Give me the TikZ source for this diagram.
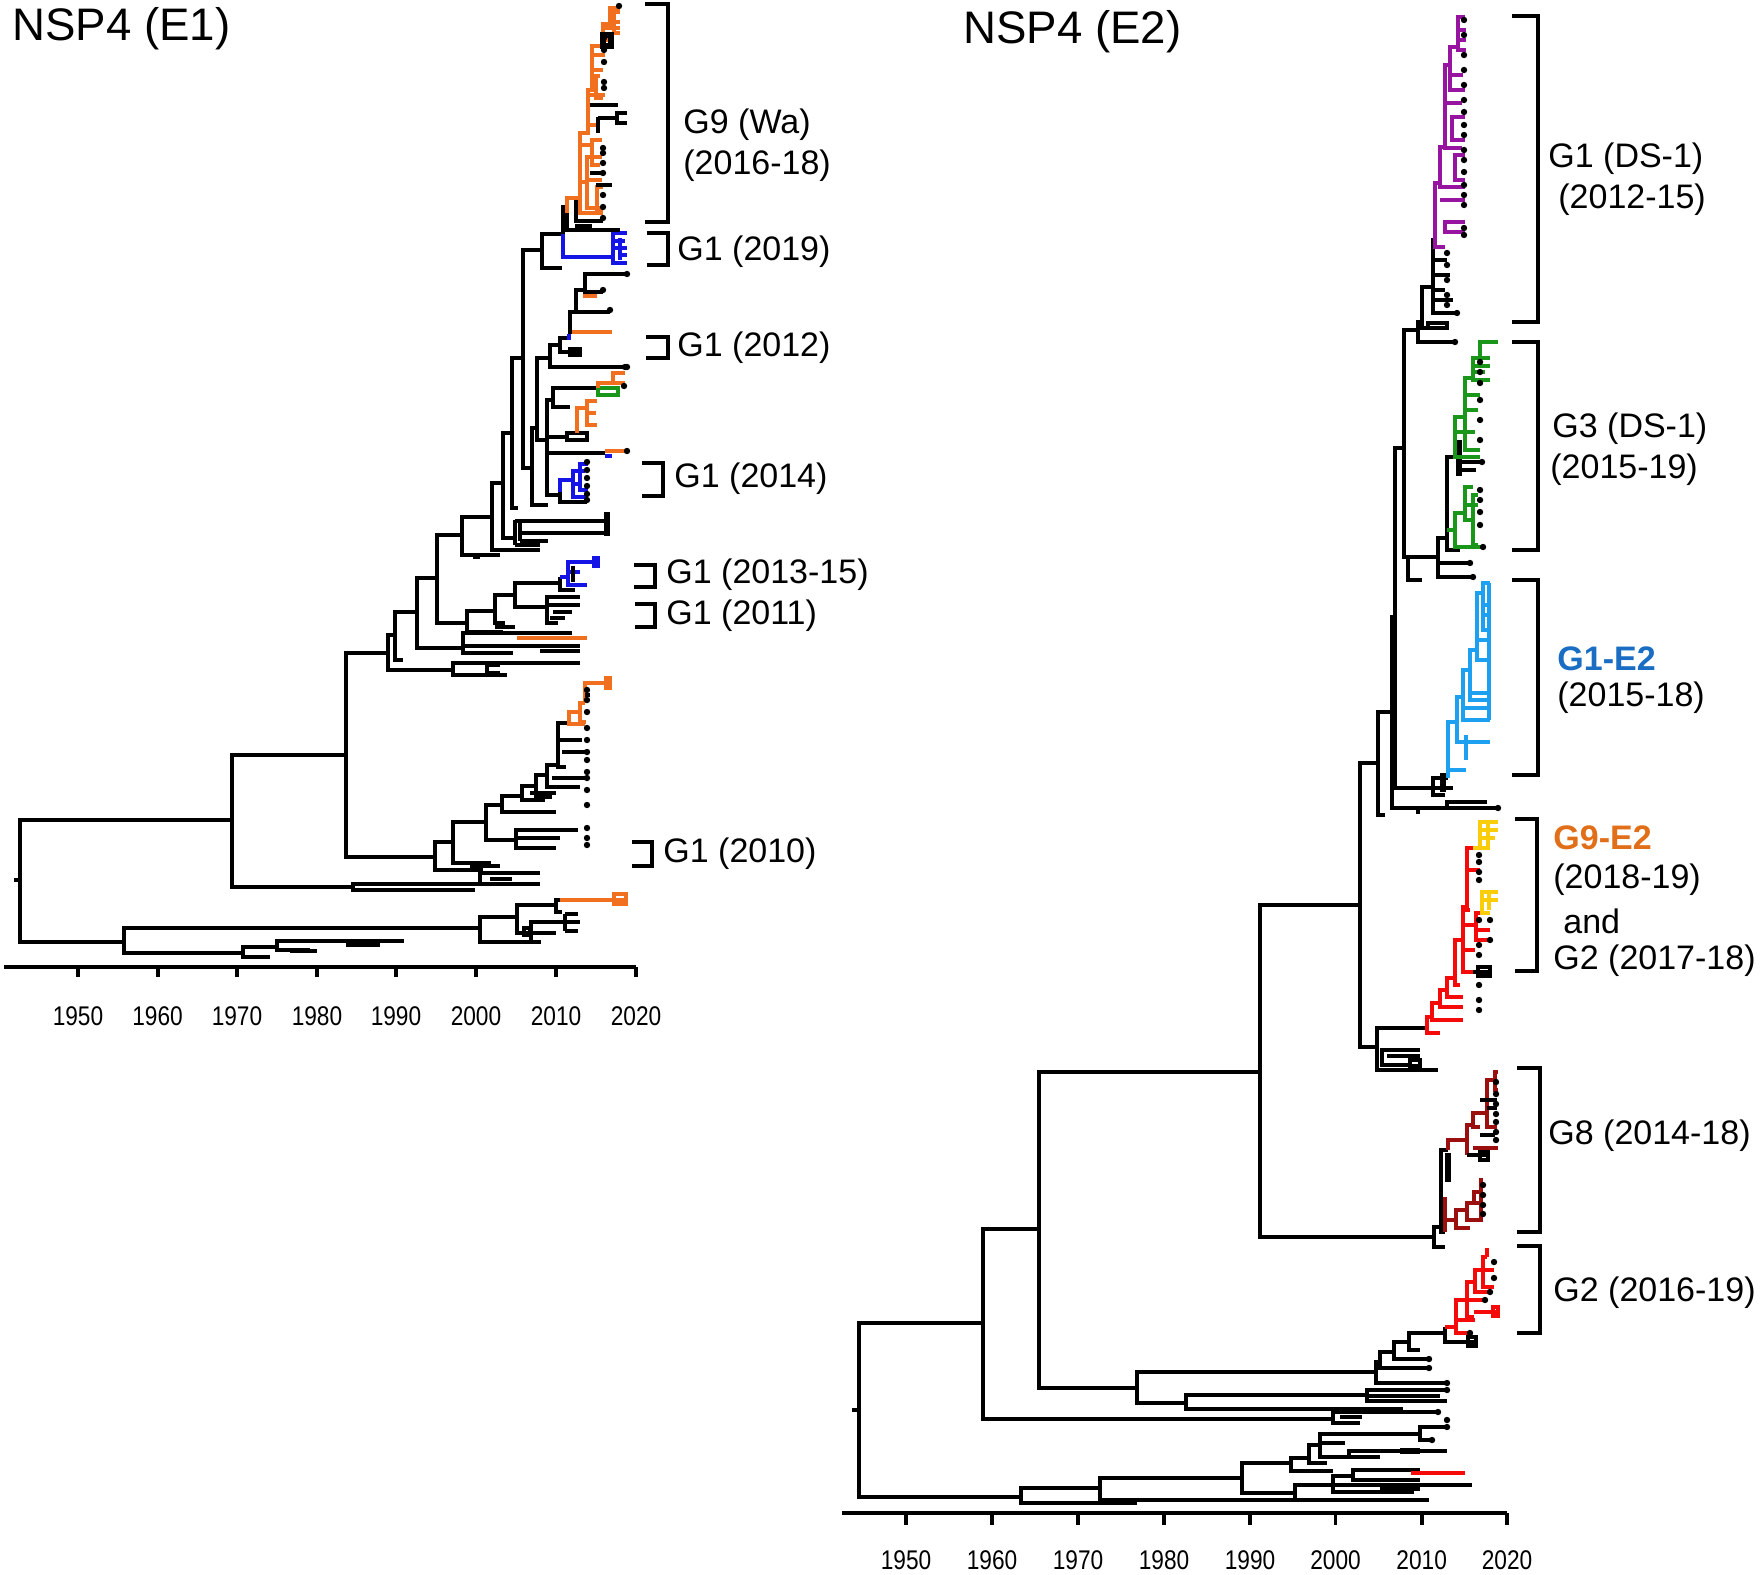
\documentclass[tikz,border=0pt]{standalone}
\usepackage{fontspec}
\setmainfont{Liberation Sans}
\definecolor{cOr}{RGB}{240,112,32}
\definecolor{cBl}{RGB}{20,20,230}
\definecolor{cGr}{RGB}{26,150,26}
\definecolor{cPu}{RGB}{150,20,160}
\definecolor{cLb}{RGB}{30,160,240}
\definecolor{cRd}{RGB}{245,10,10}
\definecolor{cYe}{RGB}{250,205,10}
\definecolor{cDr}{RGB}{155,15,15}
\definecolor{cLabB}{RGB}{25,110,195}
\definecolor{cLabO}{RGB}{225,110,25}
\newcommand\TNd[6][brk]{\draw[#1] (#5,#3) -| (#2,#4) -- (#6,#4);}
\newcommand\TLf[4][brk]{\draw[#1] (#2,#3) -- (#4,#3);}
\newcommand\TTp[3][black]{\fill[#1] (#2,#3) circle (1.6pt);}
\begin{document}
\begin{tikzpicture}[x=0.5pt,y=-0.5pt,
  brk/.style={line width=1.9pt,draw=black,line join=miter},
  orng/.style={brk,draw=cOr},
  blu/.style={brk,draw=cBl},
  grn/.style={brk,draw=cGr},
  purp/.style={brk,draw=cPu},
  lblu/.style={brk,draw=cLb},
  redd/.style={brk,draw=cRd},
  yel/.style={brk,draw=cYe},
  dred/.style={brk,draw=cDr},
  brkt/.style={line width=2.3pt,draw=black},
  lab/.style={anchor=west,inner sep=0pt,font=\fontsize{17}{20}\selectfont},
  ttl/.style={anchor=west,inner sep=0pt,font=\fontsize{22.8}{26}\selectfont},
  tkl/.style={anchor=center,inner sep=0pt,xscale=0.84,font=\fontsize{13.5}{15}\selectfont}]
\fill[white] (0,0) rectangle (1760,1574);
\useasboundingbox (0,0) rectangle (1760,1574);

% ================= LEFT TREE =================
\draw[brk] (14,880)--(20,880);
\TNd{20}{820}{942}{232}{124}
\TNd{232}{755}{887}{346}{353}
\TNd{353}{884}{890}{540}{475}
\TNd{480}{873}{884}{540}{497}
\TLf{490}{879}{512}
\TNd{346}{653}{857}{388}{435}
% G1 (2010) ladder
\TNd{435}{842}{870}{453}{483}
\TNd{453}{822}{863}{486}{491}
\TLf{470}{866}{500}
\TNd{486}{805}{840}{502}{516}
\TNd{516}{830}{848}{578}{556}
\TLf{516}{838}{560}
\TNd{502}{796}{812}{522}{556}
\TNd{522}{786}{800}{536}{545}
\TLf{530}{793}{556}
\TNd{536}{775}{797}{547}{552}
\TNd{547}{765}{787}{558}{580}
\TLf{552}{778}{587}
\TNd{558}{723}{767}{569}{566}
\TLf{560}{740}{582}
\TLf{562}{752}{586}
\TNd[orng]{569}{712}{724}{580}{585}
\TNd[orng]{580}{703}{722}{585}{586}
\draw[orng] (585,703)--(585,683)--(609,683);
\draw[orng] (606,678) rectangle (610,688);
\TLf{585}{695}{590}
\foreach \yy in {690,700,712,728,740,752,760,772,778,790,805,828,838,845}{\TTp{587}{\yy}}
% middle block
\TNd{388}{635}{670}{395}{453}
\TNd{453}{663}{675}{580}{507}
\TNd{487}{665}{673}{500}{500}
\TNd{395}{612}{660}{417}{403}
\TNd{417}{578}{648}{437}{463}
\TNd{463}{633}{653}{572}{513}
\TLf{463}{646}{580}
\TLf[orng]{517}{638}{587}
\TLf{540}{651}{580}
\TNd{437}{535}{623}{462}{467}
\TNd{467}{611}{632}{495}{503}
\TLf{495}{627}{515}
\TNd{495}{595}{623}{515}{505}
\TNd{515}{583}{607}{560}{547}
\TNd{547}{597}{623}{580}{558}
\TLf{547}{605}{580}
\TLf{553}{612}{572}
\TLf{550}{618}{565}
\draw[brk] (560,577)--(560,590)--(575,590);
\draw[blu] (560,577)--(568,577);
\TNd[blu]{568}{562}{585}{597}{587}
\draw[blu] (594,558) rectangle (598,566);
\TLf[blu]{568}{572}{580}
\draw[brk] (573,566)--(573,582);
\TNd{462}{517}{555}{492}{500}
\TLf{473}{557}{480}
\TNd{492}{483}{550}{503}{540}
\TNd{503}{433}{538}{512}{515}
\draw[brk] (515,520)--(515,545);
\TLf{515}{521}{610}
\draw[brk] (520,521)--(520,541);
\TLf{520}{533}{610}
\TLf{520}{541}{548}
\TLf{515}{545}{540}
\draw[brk,line width=3pt] (607,512)--(607,536);
% upper part
\TNd{512}{358}{508}{523}{518}
\TNd{523}{250}{468}{542}{532}
\TNd{532}{428}{505}{537}{548}
\TNd{537}{358}{440}{550}{547}
\TNd{547}{400}{495}{553}{560}
\TLf{547}{437}{567}
\draw[brk] (567,433) rectangle (587,440);
\draw[orng] (577,433)--(577,408)--(587,408);
\TNd[orng]{587}{401}{425}{597}{597}
\TLf[orng]{587}{413}{596}
\TLf{547}{453}{605}
\TLf[orng]{605}{451}{627}
\TLf[blu]{605}{456}{612}
\TTp{627}{451}
% blue 2014
\TLf{547}{495}{560}
\draw[blu] (560,492)--(560,480)--(573,480);
\draw[brk] (560,492)--(560,502)--(587,502);
\TNd[blu]{573}{471}{497}{585}{588}
\TNd[blu]{580}{464}{490}{588}{588}
\TLf[blu]{573}{484}{580}
\foreach \yy in {462,470,478,486,494,500}{\TTp{587}{\yy}}
% orange / green
\TNd{553}{388}{407}{573}{570}
\TLf{573}{388}{598}
\draw[grn] (598,388) rectangle (618,395);
\draw[orng] (598,388)--(598,383)--(613,383);
\TNd[orng]{613}{373}{383}{625}{625}
\TTp{625}{367}\TTp{624}{386}
% G1 (2012) ladder
\TNd{550}{345}{367}{560}{627}
\TTp{627}{367}
\TNd{560}{338}{352}{570}{580}
\draw[brk] (570,349) rectangle (580,355);
\TNd{570}{312}{332}{576}{572}
\TLf[orng]{572}{332}{612}
\draw[blu] (569,334)--(569,340);
\TNd{576}{290}{312}{585}{610}
\TLf[orng]{583}{296}{597}
\TNd{585}{274}{292}{627}{603}
\TTp{627}{274}\TTp{603}{290}\TTp{610}{310}
% G1 (2019)
\TNd{542}{234}{268}{563}{562}
\draw[brk] (563,205)--(563,234);
\draw[blu] (563,234)--(563,257)--(613,257);
\TNd[blu]{613}{233}{263}{627}{627}
\TLf[blu]{613}{241}{625}
\TLf[blu]{613}{248}{627}
\draw[blu] (620,238)--(620,260);
\TLf[blu]{620}{255}{627}
% D and G9 (Wa)
\draw[brk] (567,213)--(567,230)--(620,230);
\draw[brk] (577,226) rectangle (590,230);
\draw[brk] (576,200)--(576,221)--(603,221);
\draw[orng] (567,213)--(567,198) -| (580,133) -| (588,90) -| (592,46) -| (603,24) -| (610,8) -- (620,8);
\draw[orng] (580,198)--(580,213)--(603,213);
\draw[orng] (580,182)--(587,182);
\TNd[orng]{587}{157}{208}{602}{603}
\TLf[orng]{587}{180}{602}
\TNd[orng]{597}{187}{210}{603}{603}
\TLf[orng]{580}{145}{592}
\TNd[orng]{592}{140}{165}{602}{600}
\TLf[orng]{588}{95}{605}
\TLf[orng]{588}{125}{600}
\TNd[orng]{596}{76}{98}{600}{603}
\TLf[orng]{592}{55}{605}
\TLf[orng]{592}{70}{603}
\TNd[orng]{603}{28}{40}{620}{612}
\TNd[orng]{610}{12}{22}{620}{620}
\draw[orng] (614,10)--(614,33)--(620,33);
\TLf{590}{105}{618}
\draw[brk] (598,117)--(598,133);
\TLf{598}{118}{617}
\TNd{617}{113}{123}{627}{627}
\TLf{596}{185}{612}
\TLf{590}{173}{603}
\draw[brk,line width=3pt] (603,35)--(611,35)--(611,46)--(603,46)--cycle;
\TTp{619}{6}
\foreach \yy in {148,153,163,173,195,207,218}{\TTp{603}{\yy}}
\foreach \yy in {38,50,62,82,88}{\TTp{604}{\yy}}
% lower left subtree
\TNd{124}{928}{953}{480}{243}
\TNd{480}{917}{942}{517}{531}
\TNd{517}{905}{933}{556}{556}
\TNd{556}{900}{912}{560}{562}
\TLf[orng]{560}{900}{627}
\draw[orng] (614,894) rectangle (626,904);
\TNd{531}{922}{942}{565}{541}
\draw[brk] (565,914)--(565,931);
\TLf{565}{922}{580}
\TLf{565}{914}{578}
\TLf{565}{931}{578}
\draw[brk] (524,928) rectangle (530,935);
\TNd{243}{947}{957}{277}{270}
\TNd{277}{941}{950}{346}{310}
\TLf{346}{941}{404}
\draw[brk,line width=3pt] (346,944)--(380,944);
\draw[brk] (290,951)--(317,951);
% brackets left
\draw[brkt] (645,4) -- (668,4) -- (668,222) -- (645,222);
\draw[brkt] (647,233) -- (668,233) -- (668,265) -- (647,265);
\draw[brkt] (646,337) -- (668,337) -- (668,358) -- (646,358);
\draw[brkt] (642,463) -- (663,463) -- (663,496) -- (642,496);
\draw[brkt] (634,565) -- (655,565) -- (655,587) -- (634,587);
\draw[brkt] (635,604) -- (655,604) -- (655,627) -- (635,627);
\draw[brkt] (632,842) -- (652,842) -- (652,866) -- (632,866);
% axis left
\draw[brk] (4,967) -- (636,967);
\foreach \xx/\yr in {78/1950,157.6/1960,237/1970,317/1980,396/1990,476/2000,556/2010,636/2020}{
  \draw[brk] (\xx,967)--(\xx,977);
  \node[tkl] (La\yr) at (\xx,1016) {\yr};}
% labels left
\node[ttl] (t1) at (12,29) {NSP4 (E1)};
\node[lab] (l1a) at (683,125) {G9 (Wa)};
\node[lab] (l1b) at (683,166) {(2016-18)};
\node[lab] (l2) at (677,252) {G1 (2019)};
\node[lab] (l3) at (677,348) {G1 (2012)};
\node[lab] (l4) at (674,479) {G1 (2014)};
\node[lab] (l5) at (666,575) {G1 (2013-15)};
\node[lab] (l6) at (666,616) {G1 (2011)};
\node[lab] (l7) at (663,854) {G1 (2010)};

% ================= RIGHT TREE =================
\draw[brk] (852,1410)--(859,1410);
\TNd{859}{1323}{1497}{983}{1021}
\TNd{983}{1229}{1419}{1039}{1333}
\TNd{1333}{1412}{1423}{1438}{1360}
\TLf{1340}{1417}{1362}
\TTp{1438}{1412}
\TNd{1039}{1072}{1388}{1260}{1137}
\TNd{1137}{1372}{1403}{1376}{1186}
\TNd{1376}{1362}{1383}{1380}{1447}
\TNd{1380}{1352}{1368}{1394}{1429}
\TNd{1394}{1342}{1359}{1409}{1429}
\TNd{1409}{1333}{1350}{1445}{1420}
\draw[brk] (1445,1327)--(1445,1342)--(1476,1342);
\draw[brk] (1468,1337) rectangle (1476,1346);
\TTp{1447}{1383}\TTp{1429}{1368}\TTp{1429}{1359}
\draw[redd] (1445,1327)--(1456,1327);
\TNd[redd]{1456}{1300}{1333}{1467}{1470}
\TNd[redd]{1467}{1282}{1317}{1475}{1474}
\TLf[redd]{1474}{1312}{1498}
\draw[redd] (1493,1307) rectangle (1498,1316);
\TNd[redd]{1475}{1270}{1292}{1483}{1490}
\TNd[redd]{1483}{1257}{1287}{1487}{1494}
\draw[redd] (1487,1257)--(1487,1248);
\TLf[redd]{1456}{1320}{1475}
\TLf[redd]{1467}{1300}{1485}
\TLf[redd]{1483}{1270}{1494}
\TTp{1490}{1292}\TTp{1494}{1278}\TTp{1470}{1333}\TTp{1485}{1300}\TTp{1494}{1262}
\TNd{1186}{1395}{1409}{1367}{1403}
\TNd{1367}{1390}{1401}{1447}{1447}
\TLf{1367}{1396}{1440}
\TTp{1447}{1390}
% bottom group
\TNd{1021}{1488}{1503}{1100}{1137}
\TNd{1100}{1478}{1500}{1242}{1295}
\TNd{1242}{1463}{1493}{1291}{1295}
\TNd{1295}{1485}{1500}{1333}{1429}
\TNd{1333}{1476}{1492}{1353}{1414}
\TNd{1353}{1470}{1480}{1420}{1420}
\TLf[redd]{1411}{1473}{1465}
\TLf{1333}{1485}{1472}
\draw[brk,line width=3pt] (1380,1488)--(1420,1488);
\TNd{1291}{1458}{1471}{1309}{1333}
\TNd{1309}{1445}{1463}{1320}{1327}
\TNd{1320}{1434}{1457}{1420}{1349}
\TNd{1420}{1427}{1440}{1447}{1432}
\TNd{1349}{1451}{1457}{1447}{1380}
\TLf{1320}{1443}{1345}
\draw[brk,line width=3pt] (1400,1451)--(1420,1451);
\TTp{1447}{1420}\TTp{1447}{1427}\TTp{1432}{1440}
% G8
\TNd{1260}{905}{1237}{1360}{1434}
\TNd{1434}{1227}{1247}{1441}{1445}
\TNd{1441}{1150}{1232}{1448}{1445}
\draw[brk,line width=3pt] (1448,1153)--(1448,1182);
\draw[dred] (1448,1150)--(1448,1140)--(1467,1140);
\draw[dred] (1473,1125) -| (1467,1155);
\TLf{1467}{1155}{1490}
\draw[brk] (1480,1151) rectangle (1488,1160);
\TNd[dred]{1473}{1113}{1127}{1487}{1480}
\TNd[dred]{1487}{1080}{1127}{1495}{1497}
\TNd[dred]{1495}{1072}{1090}{1498}{1498}
\TLf[dred]{1473}{1148}{1498}
\TLf{1480}{1100}{1497}
\TLf{1487}{1108}{1497}
\TLf{1480}{1135}{1495}
\foreach \yy in {1082,1094,1104,1114,1122,1132,1140}{\TTp{1496}{\yy}}
\draw[dred] (1445,1232)--(1445,1197);
\draw[dred] (1445,1220)--(1456,1220);
\TNd[dred]{1456}{1210}{1228}{1467}{1470}
\TNd[dred]{1467}{1203}{1220}{1474}{1483}
\TNd[dred]{1474}{1192}{1203}{1481}{1483}
\TNd[dred]{1481}{1180}{1217}{1483}{1483}
\foreach \yy in {1185,1195,1205,1214}{\TTp{1483}{\yy}}
% upper right spine
\TNd{1360}{763}{1047}{1378}{1377}
% red clade G9-E2 / G2
\TNd{1377}{1028}{1070}{1427}{1438}
\TNd{1382}{1050}{1065}{1420}{1410}
\TLf{1387}{1056}{1420}
\draw[brk] (1410,1060) rectangle (1420,1066);
\TNd[redd]{1427}{1017}{1033}{1432}{1440}
\TNd[redd]{1432}{1003}{1020}{1440}{1463}
\TNd[redd]{1440}{990}{1007}{1447}{1463}
\TNd[redd]{1447}{978}{997}{1455}{1463}
\TNd[redd]{1455}{940}{985}{1463}{1460}
\TNd[redd]{1463}{907}{972}{1467}{1473}
\TLf{1473}{972}{1490}
\draw[brk] (1478,967) rectangle (1490,976);
\TNd[redd]{1467}{848}{910}{1473}{1470}
\TLf[redd]{1463}{925}{1476}
\TNd[redd]{1476}{913}{940}{1480}{1490}
\TLf[redd]{1476}{930}{1490}
\TLf[redd]{1467}{870}{1480}
\TLf[redd]{1463}{950}{1475}
\draw[yel] (1473,848)--(1480,848);
\TNd[yel]{1480}{822}{848}{1498}{1490}
\TLf[yel]{1480}{830}{1498}
\TLf[yel]{1480}{838}{1495}
\draw[yel] (1488,824)--(1488,846);
\TNd[yel]{1482}{892}{913}{1498}{1490}
\TLf[yel]{1482}{900}{1498}
\draw[yel] (1489,894)--(1489,910);
\foreach \yy in {855,862,872,880,920,945,955,985,1000,1010}{\TTp{1479}{\yy}}
\TTp{1490}{920}\TTp{1490}{940}
% N2-N4
\TNd{1378}{712}{815}{1392}{1385}
\TNd{1392}{617}{808}{1395}{1498}
\TTp{1498}{808}
\TNd{1447}{802}{808}{1487}{1447}
\TLf{1416}{812}{1420}
\TNd{1395}{448}{788}{1404}{1433}
% blue clade G1-E2
\TNd{1433}{778}{795}{1448}{1445}
\draw[brk,line width=3pt] (1443,773)--(1443,792);
\TLf{1433}{788}{1453}
\draw[lblu] (1448,778)--(1448,770);
\TNd[lblu]{1448}{722}{770}{1457}{1466}
\TNd[lblu]{1457}{697}{742}{1463}{1490}
\TNd[lblu]{1463}{670}{720}{1470}{1490}
\TNd[lblu]{1470}{650}{700}{1477}{1490}
\TNd[lblu]{1477}{593}{660}{1483}{1490}
\TNd[lblu]{1483}{583}{630}{1490}{1490}
\TLf[lblu]{1470}{693}{1490}
\TLf[lblu]{1477}{640}{1490}
\TLf[lblu]{1483}{605}{1490}
\TLf[lblu]{1483}{615}{1490}
\TLf[lblu]{1463}{708}{1490}
\draw[lblu] (1489,583)--(1489,720);
\draw[lblu] (1466,735)--(1466,760);
% N5, G3 (DS-1)
\TNd{1404}{330}{557}{1418}{1408}
\TNd{1408}{557}{580}{1438}{1422}
\TNd{1438}{538}{577}{1447}{1473}
\TLf{1438}{563}{1470}
\TTp{1473}{577}\TTp{1470}{563}
\TNd{1447}{457}{550}{1455}{1460}
\draw[brk,line width=3pt] (1459,440)--(1459,476);
\TLf{1459}{462}{1482}
\TLf{1459}{470}{1476}
\TNd[grn]{1455}{417}{457}{1465}{1480}
\TNd[grn]{1465}{378}{450}{1473}{1480}
\TNd[grn]{1473}{358}{380}{1480}{1490}
\TNd[grn]{1480}{342}{358}{1498}{1490}
\TLf[grn]{1465}{395}{1480}
\TLf[grn]{1465}{410}{1478}
\TLf[grn]{1455}{432}{1475}
\TLf[grn]{1473}{366}{1490}
\TLf[grn]{1473}{372}{1485}
\TLf[grn]{1447}{530}{1455}
\TNd[grn]{1455}{513}{547}{1465}{1483}
\TNd[grn]{1465}{487}{520}{1473}{1475}
\TNd[grn]{1473}{495}{545}{1478}{1478}
\TLf[grn]{1465}{505}{1478}
\foreach \yy in {362,372,383,400,420,440,490,500,512,525}{\TTp{1480}{\yy}}
\TTp{1482}{462}\TTp{1483}{547}
% G1 (DS-1)
\TNd{1418}{322}{342}{1422}{1455}
\TTp{1455}{342}
\TNd{1422}{287}{328}{1433}{1447}
\draw[brk] (1428,323) rectangle (1447,328);
\TNd{1433}{240}{313}{1435}{1457}
\TTp{1457}{313}
\TLf{1433}{260}{1447}
\TLf{1433}{275}{1450}
\TLf{1433}{290}{1445}
\TLf{1433}{300}{1453}
\foreach \yy in {253,265,280,295,305}{\TTp{1447}{\yy}}
\draw[purp] (1433,240)--(1435,240);
\TNd[purp]{1435}{183}{247}{1440}{1445}
\TNd[purp]{1440}{147}{187}{1445}{1465}
\TNd[purp]{1445}{65}{148}{1450}{1462}
\TNd[purp]{1450}{47}{90}{1458}{1465}
\TNd[purp]{1458}{17}{50}{1465}{1466}
\TLf[purp]{1440}{200}{1465}
\TNd[purp]{1445}{222}{232}{1465}{1465}
\TNd[purp]{1452}{117}{140}{1465}{1465}
\TLf[purp]{1445}{103}{1462}
\TLf[purp]{1450}{75}{1463}
\TNd[purp]{1455}{155}{180}{1465}{1465}
\TLf[purp]{1458}{30}{1466}
\TLf[purp]{1458}{40}{1466}
\foreach \yy in {20,35,55,70,85,100,112,125,135,150,160,172,185,195,205,228,235}{\TTp{1464}{\yy}}
% brackets right
\draw[brkt] (1512,16) -- (1538,16) -- (1538,322) -- (1512,322);
\draw[brkt] (1512,342) -- (1538,342) -- (1538,550) -- (1512,550);
\draw[brkt] (1512,580) -- (1538,580) -- (1538,775) -- (1512,775);
\draw[brkt] (1515,819) -- (1537,819) -- (1537,971) -- (1515,971);
\draw[brkt] (1517,1068) -- (1540,1068) -- (1540,1232) -- (1517,1232);
\draw[brkt] (1517,1246) -- (1540,1246) -- (1540,1333) -- (1517,1333);
% axis right
\draw[brk] (842,1513) -- (1507,1513);
\foreach \xx/\yr in {906/1950,992/1960,1078/1970,1164/1980,1250/1990,1335.5/2000,1421.7/2010,1507/2020}{
  \draw[brk] (\xx,1513)--(\xx,1525);
  \node[tkl] (Ra\yr) at (\xx,1560) {\yr};}
% labels right
\node[ttl] (t2) at (963,32) {NSP4 (E2)};
\node[lab] (r1a) at (1548,159) {G1 (DS-1)};
\node[lab] (r1b) at (1558,200) {(2012-15)};
\node[lab] (r2a) at (1552,429) {G3 (DS-1)};
\node[lab] (r2b) at (1550,470) {(2015-19)};
\node[lab,text=cLabB,font=\fontsize{17}{20}\selectfont\bfseries] (r3a) at (1557,659) {G1-E2};
\node[lab] (r3b) at (1557,698) {(2015-18)};
\node[lab,text=cLabO,font=\fontsize{17}{20}\selectfont\bfseries] (r4a) at (1553,838) {G9-E2};
\node[lab] (r4b) at (1553,880) {(2018-19)};
\node[lab] (r4c) at (1563,921) {and};
\node[lab] (r4d) at (1553,961) {G2 (2017-18)};
\node[lab] (r5) at (1548,1136) {G8 (2014-18)};
\node[lab] (r6) at (1553,1293) {G2 (2016-19)};
\end{tikzpicture}
\end{document}
